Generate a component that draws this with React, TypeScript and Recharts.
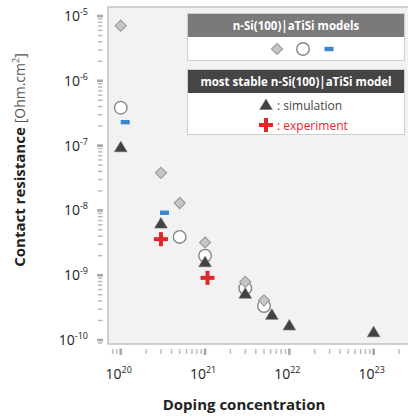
import { ScatterChart, Scatter, XAxis, YAxis, ReferenceArea } from 'recharts'

const FONT = "'Open Sans', 'DejaVu Sans', sans-serif"

// x: doping concentration, y: contact resistance (Ohm.cm2)
const diamondX = [1e20, 3e20, 5e20, 1e21, 3e21, 5e21]
const diamondY = [7.1e-6, 3.8e-8, 1.3e-8, 3.2e-9, 7.9e-10, 4.1e-10]
const circleX = [1e20, 5e20, 1e21, 3e21, 5e21]
const circleY = [3.85e-7, 3.9e-9, 2.0e-9, 6.3e-10, 3.35e-10]
const dashX = [1.13e20, 3.3e20]
const dashY = [2.3e-7, 9.2e-9]
const simX = [1e20, 3e20, 1e21, 3e21, 6.2e21, 1e22, 1e23]
const simY = [9.1e-8, 6.05e-9, 1.53e-9, 5.0e-10, 2.36e-10, 1.62e-10, 1.27e-10]
const expX = [3e20, 1.07e21]
const expY = [3.6e-9, 9.1e-10]

const xDomain = [7.06e19, 3.01e23]
const yDomain = [8.68e-11, 1.377e-5]
const xDecades = [19, 20, 21, 22, 23]
const yDecades = [-11, -10, -9, -8, -7, -6, -5]
const minorSteps = [2, 3, 4, 5, 6, 7, 8, 9]

const pts = (xs: number[], ys: number[]) => xs.map((x, i) => ({ x, y: ys[i] }))

const logTicks = (decades: number[], lo: number, hi: number) => {
  const out: number[] = []
  decades.forEach(d => {
    out.push(Number(`1e${d}`))
    minorSteps.forEach(m => out.push(Number(`${m}e${d}`)))
  })
  return out.filter(v => v >= lo && v <= hi).sort((a, b) => a - b)
}
const isMajor = (v: number) => Math.abs(Math.log10(v) - Math.round(Math.log10(v))) < 1e-6

function Diamond({ cx, cy }: any) {
  const r = 5.5
  return <path d={`M${cx},${cy - r}L${cx + r},${cy}L${cx},${cy + r}L${cx - r},${cy}Z`}
    fill="#c6c6c6" stroke="#9c9c9c" strokeWidth={1.2} />
}
function Ring({ cx, cy }: any) {
  return <circle cx={cx} cy={cy} r={6.3} fill="#fff" stroke="#858585" strokeWidth={1.4} />
}
function Dash({ cx, cy }: any) {
  return <rect x={cx - 4.5} y={cy - 2.2} width={9} height={4.4} fill="#3a86cc" />
}
function Tri({ cx, cy }: any) {
  const h = 10.5, w = 6.3
  return <path d={`M${cx},${cy - h * 2 / 3}L${cx + w},${cy + h / 3}L${cx - w},${cy + h / 3}Z`}
    fill="#424242" stroke="#6a6a6a" strokeWidth={0.6} />
}
function Cross({ cx, cy }: any) {
  return <g fill="#e0282a">
    <rect x={cx - 7} y={cy - 2} width={14} height={4} />
    <rect x={cx - 2} y={cy - 7} width={4} height={14} />
  </g>
}

function YTick({ y, payload }: any) {
  const v = payload.value
  if (!isMajor(v)) return <rect x={98} y={y - 0.7} width={4.5} height={1.4} fill="#b8b8b8" />
  const e = Math.round(Math.log10(v))
  return <g>
    <rect x={97} y={y - 1.3} width={6} height={2.6} fill="#a8a8a8" />
    <text x={88} y={y + 5} textAnchor="end" fontFamily={FONT} fontSize={14} fill="#222">
      10<tspan dy={-6} fontSize={9}>{e}</tspan>
    </text>
  </g>
}

function XTick({ x, payload }: any) {
  const v = payload.value
  if (!isMajor(v)) return <rect x={x - 0.7} y={349} width={1.4} height={5} fill="#b8b8b8" />
  const e = Math.round(Math.log10(v))
  return <g>
    <rect x={x - 1.3} y={348.5} width={2.6} height={6.5} fill="#a8a8a8" />
    <text x={x - 2} y={379} textAnchor="middle" fontFamily={FONT} fontSize={14} fill="#222">
      10<tspan dy={-6} fontSize={9}>{e}</tspan>
    </text>
  </g>
}

function Marker({ children }: { children: any }) {
  return <svg width={18} height={18} style={{ display: 'block' }}>{children}</svg>
}

const box = {
  position: 'absolute' as const, left: 187, width: 218, boxSizing: 'border-box' as const,
  border: '1px solid #cfcfcf', background: '#fff', fontFamily: FONT,
}
const head = {
  color: '#fff', fontWeight: 700, fontSize: 11.5, height: 23, lineHeight: '23px', textAlign: 'center' as const,
}

export default function App() {
  return (
    <div style={{ position: 'absolute', left: 0, top: 0, width: 408, height: 419, overflow: 'hidden', background: '#fff' }}>
      <ScatterChart width={414} height={419} margin={{ top: 7, right: 0, bottom: 0, left: 0 }}>
        <XAxis type="number" dataKey="x" scale="log" domain={xDomain} allowDataOverflow
          ticks={logTicks(xDecades, xDomain[0], xDomain[1])} interval={0}
          height={75} axisLine={false} tickLine={false} tick={<XTick />}
          label={{
            content: () => <text x={244} y={410} textAnchor="middle" fontFamily={FONT}
              fontSize={15} fontWeight={700} fill="#222">Doping concentration</text>
          }} />
        <YAxis type="number" dataKey="y" scale="log" domain={yDomain} allowDataOverflow
          ticks={logTicks(yDecades, yDomain[0], yDomain[1])} interval={0}
          width={108} axisLine={false} tickLine={false} tick={<YTick />}
          label={{
            content: () => <text transform="translate(25,160) rotate(-90)" textAnchor="middle" fontFamily={FONT}>
              <tspan fontSize={15} fontWeight={700} fill="#222">Contact resistance </tspan>
              <tspan fontSize={14} fill="#555">[Ohm.cm</tspan>
              <tspan fontSize={9} dy={-6} fill="#555">2</tspan>
              <tspan fontSize={14} dy={6} fill="#555">]</tspan>
            </text>
          }} />
        <ReferenceArea x1={xDomain[0]} x2={xDomain[1]} y1={yDomain[0]} y2={yDomain[1]}
          fill="#f2f2f2" fillOpacity={1} stroke="#c4c4c4" strokeWidth={1.6} />
        <Scatter data={pts(circleX, circleY)} shape={(p: any) => <Ring {...p} />} isAnimationActive={false} />
        <Scatter data={pts(diamondX, diamondY)} shape={(p: any) => <Diamond {...p} />} isAnimationActive={false} />
        <Scatter data={pts(dashX, dashY)} shape={(p: any) => <Dash {...p} />} isAnimationActive={false} />
        <Scatter data={pts(simX, simY)} shape={(p: any) => <Tri {...p} />} isAnimationActive={false} />
        <Scatter data={pts(expX, expY)} shape={(p: any) => <Cross {...p} />} isAnimationActive={false} />
      </ScatterChart>

      <div style={{ ...box, top: 13, height: 48 }}>
        <div style={{ ...head, background: '#7a7a7a' }}>n-Si(100)|aTiSi models</div>
        <div style={{ display: 'flex', justifyContent: 'center', alignItems: 'center', height: 23, gap: 8, paddingLeft: 14 }}>
          <Marker><Diamond cx={9} cy={9} /></Marker>
          <Marker><Ring cx={9} cy={9} /></Marker>
          <Marker><Dash cx={9} cy={9} /></Marker>
        </div>
      </div>

      <div style={{ ...box, top: 69, height: 66 }}>
        <div style={{ ...head, background: '#454545' }}>most stable n-Si(100)|aTiSi model</div>
        <div style={{ display: 'flex', alignItems: 'center', height: 20, marginTop: 2, paddingLeft: 69, fontSize: 12, color: '#444' }}>
          <Marker><Tri cx={9} cy={10} /></Marker>
          <span style={{ marginLeft: 2 }}>: simulation</span>
        </div>
        <div style={{ display: 'flex', alignItems: 'center', height: 20, paddingLeft: 69, fontSize: 12, color: '#e0282a' }}>
          <Marker><Cross cx={9} cy={9} /></Marker>
          <span style={{ marginLeft: 2 }}>: experiment</span>
        </div>
      </div>
    </div>
  )
}
